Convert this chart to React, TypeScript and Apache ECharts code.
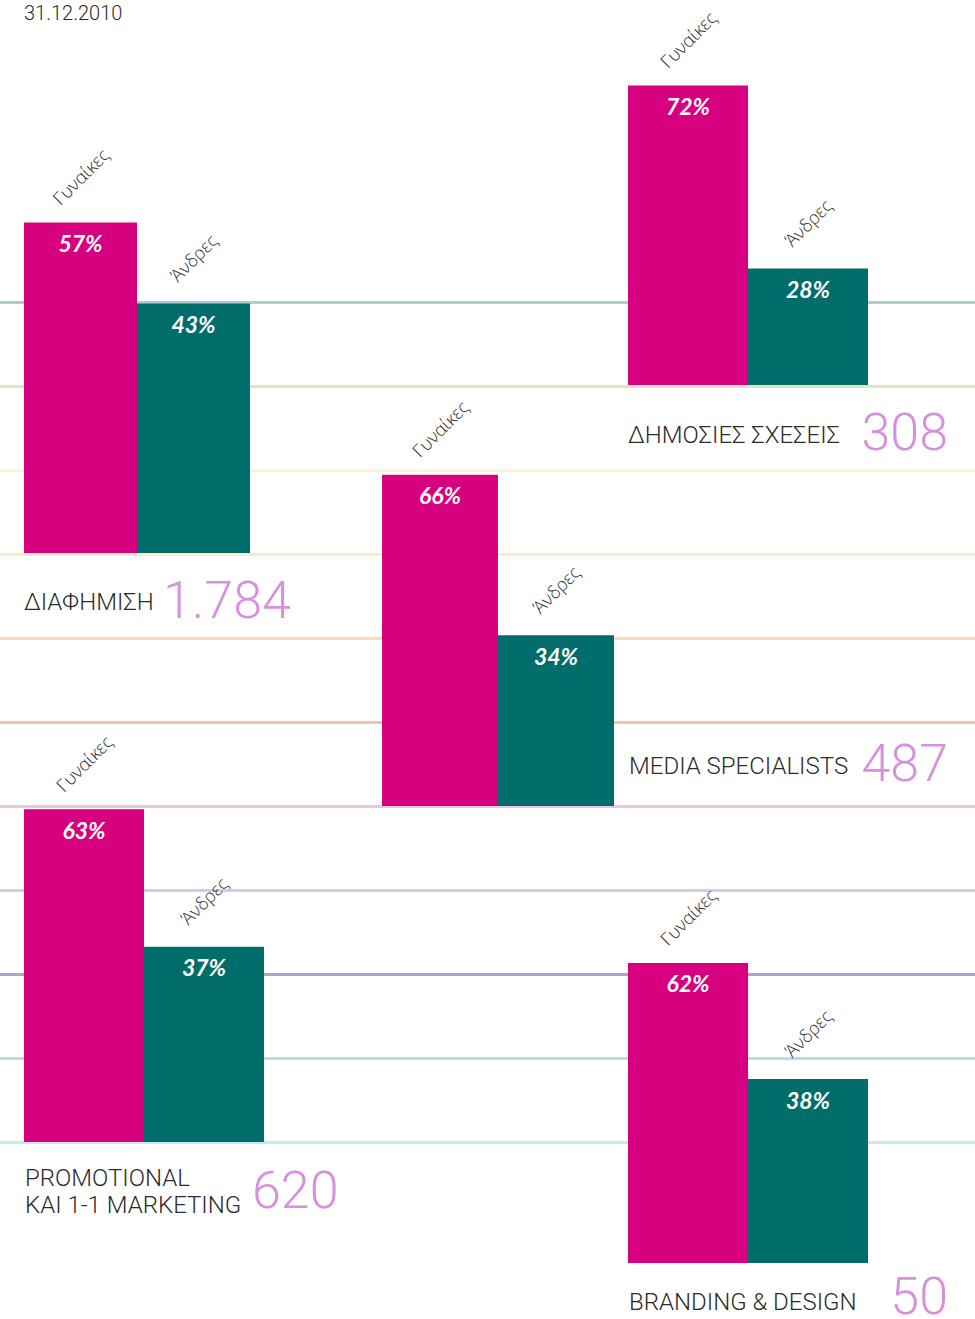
import React, { useEffect, useRef } from "react";
import * as echarts from "echarts";

// ---------- data ----------
const dateLabel = "31.12.2010";
const genders = ["Γυναίκες", "Άνδρες"];
const categories = [
  "ΔΙΑΦΗΜΙΣΗ",
  "ΔΗΜΟΣΙΕΣ ΣΧΕΣΕΙΣ",
  "MEDIA SPECIALISTS",
  "PROMOTIONAL\nΚΑΙ 1-1 MARKETING",
  "BRANDING & DESIGN",
];
const totals = ["1.784", "308", "487", "620", "50"];
const womenPct = [57, 72, 66, 63, 62];
const menPct = [43, 28, 34, 37, 38];

// ---------- layout / style ----------
const PINK = "#d7007f";
const TEAL = "#006d6b";
const LILAC = "#d690dc";
const DARK = "#2b2b2b";
const barLeft = [24, 628, 382, 24, 628];
const barWidth = [113, 120, 116, 120, 120];
const barBottom = [553, 385, 806, 1142, 1263];
const pxPerPct = [5.8, 4.16, 5.02, 5.28, 4.84];
const AXIS_MAX = 80;
// background rule colours, from bottom (y=1142) to top (y=302)
const ruleColors = [
  "#c8e9f5",
  "#bcd9e4",
  "#aaa6c4",
  "#d6c9f0",
  "#e8c4ea",
  "#f4c0aa",
  "#fcdcb8",
  "#fcecc9",
  "#f7f5d4",
  "#dfe5c0",
  "#b0cccc",
];
// caption positions: [nameX, nameY(center of last line), numberX, numberY(center), numberAlign]
const captionLayout: [number, number, number, number, string][] = [
  [24, 602, 163, 600, "left"],
  [628, 435, 948, 432, "right"],
  [629, 766, 948, 763, "right"],
  [25, 1205, 252, 1190, "left"],
  [629, 1302, 948, 1296, "right"],
];

export default function App() {
  const ref = useRef<HTMLDivElement>(null);
  useEffect(() => {
    if (!ref.current) return;
    const chart = echarts.init(ref.current, null, { renderer: "svg" });

    const grid: any[] = [{ left: 0, right: 0, top: 302, height: 840 }];
    const xAxis: any[] = [{ gridIndex: 0, type: "value", show: false }];
    const yAxis: any[] = [
      {
        gridIndex: 0,
        type: "value",
        min: 0,
        max: 10,
        interval: 1,
        axisLine: { show: false },
        axisTick: { show: false },
        axisLabel: { show: false },
        splitLine: { show: true, lineStyle: { color: ruleColors, width: 3 } },
      },
    ];
    const series: any[] = [];

    categories.forEach((_, i) => {
      const h = AXIS_MAX * pxPerPct[i];
      grid.push({
        left: barLeft[i],
        top: barBottom[i] - h,
        width: barWidth[i] * 2,
        height: h,
      });
      const gi = i + 1;
      xAxis.push({ gridIndex: gi, type: "category", data: genders, show: false });
      yAxis.push({ gridIndex: gi, type: "value", min: 0, max: AXIS_MAX, show: false });
      series.push({
        type: "bar",
        xAxisIndex: gi,
        yAxisIndex: gi,
        barCategoryGap: 0,
        barGap: "-100%",
        silent: true,
        data: [
          { value: womenPct[i], itemStyle: { color: PINK } },
          { value: menPct[i], itemStyle: { color: TEAL } },
        ],
        label: {
          show: true,
          position: "insideTop",
          distance: 9,
          formatter: "{c}%",
          color: "#ffffff",
          fontFamily: "Lato",
          fontWeight: "bold",
          fontStyle: "italic",
          fontSize: 23,
        },
      });
      series.push({
        type: "bar",
        xAxisIndex: gi,
        yAxisIndex: gi,
        barCategoryGap: 0,
        barGap: "-100%",
        silent: true,
        itemStyle: { color: "rgba(0,0,0,0)" },
        data: [womenPct[i], menPct[i]],
        label: {
          show: true,
          position: "top",
          distance: 46,
          rotate: 45,
          align: "center",
          verticalAlign: "middle",
          formatter: (p: any) => p.name,
          color: DARK,
          fontFamily: "Open Sans",
          fontWeight: 300,
          fontSize: 18,
        },
      });
    });

    const graphic: any[] = [
      {
        type: "text",
        left: 24,
        top: 3,
        style: { text: dateLabel, fill: DARK, fontFamily: "Roboto", fontWeight: 300, fontSize: 20 },
      },
    ];
    categories.forEach((name, i) => {
      const [nx, ny, tx, ty, talign] = captionLayout[i];
      const lines = name.split("\n");
      lines.forEach((ln, k) => {
        graphic.push({
          type: "text",
          x: nx,
          y: ny - (lines.length - 1 - k) * 27,
          style: {
            text: ln,
            fill: DARK,
            fontFamily: "Roboto",
            fontWeight: 300,
            fontSize: 24,
            verticalAlign: "middle",
            align: "left",
          },
        });
      });
      graphic.push({
        type: "text",
        x: tx,
        y: ty,
        style: {
          text: totals[i],
          fill: LILAC,
          fontFamily: "Roboto",
          fontWeight: 300,
          fontSize: 52,
          verticalAlign: "middle",
          align: talign,
        },
      });
    });

    chart.setOption({
      animation: false,
      backgroundColor: "#ffffff",
      grid,
      xAxis,
      yAxis,
      series,
      graphic,
    });
    return () => chart.dispose();
  }, []);
  return (
    <div
      ref={ref}
      style={{ position: "absolute", left: 0, top: 0, width: 975, height: 1319 }}
    />
  );
}
